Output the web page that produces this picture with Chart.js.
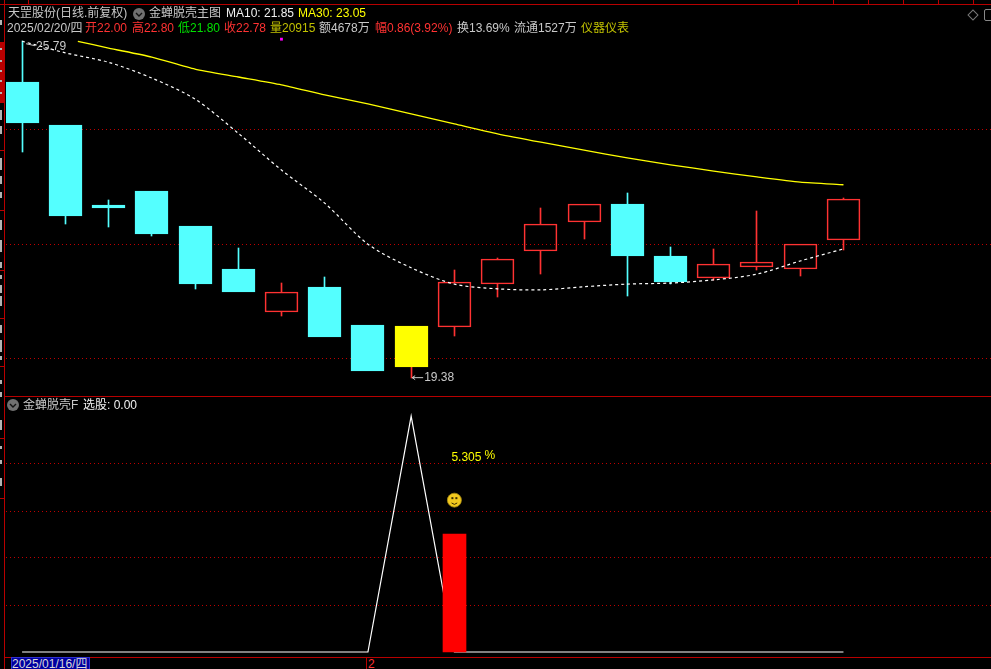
<!DOCTYPE html>
<html>
<head>
<meta charset="utf-8">
<title>天罡股份</title>
<script src="https://cdn.jsdelivr.net/npm/chart.js@4/dist/chart.umd.min.js"></script>
<style>
  html, body { margin: 0; background: #000; overflow: hidden; }
  #page { position: relative; width: 991px; height: 669px; overflow: hidden; background: #000;
          font: 12px "Liberation Sans", "Noto Sans CJK SC", sans-serif; }
  canvas { position: absolute; left: 6px; display: block; }
  .t { position: absolute; white-space: nowrap; line-height: 14px; height: 14px; }
  .r { position: absolute; background: #b80000; }
  .bit { position: absolute; left: 0; width: 2px; background: #b4b4b4; }
</style>
</head>
<body>
<div id="page">
  <canvas id="priceChart" width="985" height="390" style="top:5px"></canvas>
  <canvas id="signalChart" width="985" height="258" style="top:397px"></canvas>
</div>

<script>
/* ---------- Data ---------- */
const days   = [0, 1, 2, 3, 4, 5, 6, 7, 8, 9, 10, 11, 12, 13, 14, 15, 16, 17, 18, 19];
const opens  = [25.00, 24.19, 22.67, 22.93, 22.27, 21.45, 20.63, 21.11, 20.38, 20.37, 20.35, 21.16, 21.79, 22.34, 22.69, 21.70, 21.28, 21.49, 21.45, 22.00];
const closes = [24.22, 22.46, 22.61, 22.11, 21.16, 21.01, 21.01, 20.16, 19.51, 19.59, 21.20, 21.64, 22.30, 22.69, 21.70, 21.20, 21.54, 21.58, 21.92, 22.78];
const highs  = [25.79, 24.19, 22.76, 22.93, 22.27, 21.85, 21.18, 21.30, 20.38, 20.37, 21.43, 21.66, 22.61, 22.69, 22.89, 21.87, 21.83, 22.55, 21.92, 22.80];
const lows   = [23.67, 22.30, 22.25, 22.08, 21.07, 21.01, 20.56, 20.16, 19.51, 19.38, 20.18, 20.92, 21.35, 22.02, 20.94, 21.16, 21.24, 21.43, 21.32, 21.80];
const ma10   = [25.78, 25.56, 25.38, 25.08, 24.68, 24.03, 23.33, 22.70, 21.92, 21.47, 21.16, 21.07, 21.05, 21.11, 21.16, 21.18, 21.24, 21.35, 21.60, 21.83];
const ma30Days = [1.29, 2, 3, 4, 5, 6, 7, 8, 9, 10, 11, 12, 13, 14, 15, 16, 17, 18, 19];
const ma30   = [25.78, 25.65, 25.48, 25.25, 25.10, 24.95, 24.76, 24.59, 24.40, 24.21, 24.02, 23.86, 23.71, 23.56, 23.43, 23.31, 23.20, 23.10, 23.05];
const priceGrid = [24.11, 21.92, 19.74];
const highDay = 0, lowDay = 9, flagDay = 6, flagPrice = 25.82;

const signalLine = [0, 0, 0, 0, 0, 0, 0, 0, 0, 10.61, 0, 0, 0, 0, 0, 0, 0, 0, 0, 0];
const signalBarDay = 10, signalBarValue = 5.305;
const signalGrid = [2.11, 4.23, 6.34, 8.50];
const smileValue = 6.83, percentValue = 8.72;

/* ---------- Colours ---------- */
const RED = "#ff3232", CYAN = "#54ffff", YELLOW = "#ffff00", GRID = "#c00000";
const isUp = (i) => closes[i] >= opens[i] && i !== lowDay;
const candleColor = (i) => i === lowDay ? YELLOW : (isUp(i) ? RED : CYAN);
const wickColor = (i) => i === lowDay ? RED : candleColor(i);

/* ---------- Shared options ---------- */
const xScale = { type: "linear", display: false, offset: false, min: -0.3721, max: 22.4130 };
const yScale = (min, max, list) => ({
  min, max,
  afterFit: (s) => { s.width = 0; },
  afterBuildTicks: (s) => { s.ticks = list.map(v => ({ value: v })); },
  border: { display: false, dash: [1, 3] },
  grid: { color: GRID, lineWidth: 1, drawTicks: false },
  ticks: { display: false }
});

// keep bars on whole pixels, the reference has no antialiasing on them
const snapBars = {
  id: "snapBars",
  afterDatasetsUpdate(chart) {
    chart.data.datasets.forEach((d, n) => {
      if (d.type !== "bar") return;
      chart.getDatasetMeta(n).data.forEach(e => {
        e.x = Math.floor(e.x) + 0.5;
        e.y = Math.round(e.y);
        e.base = Math.round(e.base);
      });
    });
  }
};

const bar = (extra) => Object.assign({ type: "bar", grouped: false, borderSkipped: false }, extra);

/* ---------- Price panel ---------- */
const priceNotes = {
  id: "priceNotes",
  afterDraw(chart) {
    const { ctx, scales: { x, y } } = chart;
    ctx.save();
    ctx.font = '12px "Liberation Sans"';
    ctx.textBaseline = "middle";
    ctx.strokeStyle = "#c8c8c8";
    ctx.fillStyle = "#c8c8c8";
    // highest price
    const hx = x.getPixelForValue(highDay), hy = y.getPixelForValue(highs[highDay]);
    ctx.beginPath(); ctx.moveTo(hx + 4, hy + 3); ctx.lineTo(hx + 13, hy + 5); ctx.stroke();
    ctx.fillText(highs[highDay].toFixed(2), hx + 14, hy + 6);
    // lowest price
    const lx = x.getPixelForValue(lowDay), ly = y.getPixelForValue(lows[lowDay]);
    ctx.beginPath(); ctx.moveTo(lx + 1, ly); ctx.lineTo(lx + 12, ly);
    ctx.moveTo(lx + 1, ly); ctx.lineTo(lx + 4, ly - 2); ctx.moveTo(lx + 1, ly); ctx.lineTo(lx + 4, ly + 2); ctx.stroke();
    ctx.fillText(lows[lowDay].toFixed(2), lx + 13, ly);
    ctx.restore();
  }
};

new Chart(document.getElementById("priceChart"), {
  data: {
    datasets: [
      { type: "line", order: 1, data: ma30Days.map((d, i) => ({ x: d, y: ma30[i] })), borderColor: YELLOW, borderWidth: 1.3, pointRadius: 0, tension: 0.2 },
      { type: "line", order: 2, data: days.map(d => ({ x: d, y: ma10[d] })), borderColor: "#fff", borderWidth: 1.2, borderDash: [3, 3], pointRadius: 0, tension: 0.3 },
      { type: "scatter", order: 3, data: [{ x: flagDay, y: flagPrice }], pointStyle: "rect", pointRadius: 2, backgroundColor: "#ff00ff", borderWidth: 0 },
      bar({ order: 4, data: days.map(d => ({ x: d, y: [opens[d], closes[d]] })), barThickness: 33, borderWidth: 1,
            backgroundColor: days.map(d => isUp(d) ? "rgba(0,0,0,0)" : candleColor(d)),
            borderColor: days.map(candleColor) }),
      bar({ order: 5, barThickness: 1, borderWidth: 0, backgroundColor: (c) => wickColor(c.raw.x),
            data: days.filter(d => highs[d] > Math.max(opens[d], closes[d])).map(d => ({ x: d, y: [Math.max(opens[d], closes[d]), highs[d]] })) }),
      bar({ order: 6, barThickness: 1, borderWidth: 0, backgroundColor: (c) => wickColor(c.raw.x),
            data: days.filter(d => lows[d] < Math.min(opens[d], closes[d])).map(d => ({ x: d, y: [lows[d], Math.min(opens[d], closes[d])] })) })
    ]
  },
  options: {
    responsive: false, animation: false, devicePixelRatio: 1,
    layout: { padding: 0, autoPadding: false },
    plugins: { legend: { display: false }, tooltip: { enabled: false } },
    scales: { x: xScale, y: yScale(19.05, 26.47, priceGrid) }
  },
  plugins: [snapBars, priceNotes]
});

/* ---------- Signal panel ---------- */
const signalNotes = {
  id: "signalNotes",
  afterDraw(chart) {
    const { ctx, scales: { x, y } } = chart;
    const bx = x.getPixelForValue(signalBarDay);
    ctx.save();
    ctx.font = '12px "Liberation Sans"';
    ctx.textBaseline = "middle";
    ctx.fillStyle = YELLOW;
    const ty = y.getPixelForValue(percentValue);
    ctx.fillText(signalBarValue.toFixed(3), bx - 3, ty);
    ctx.fillText("%", bx + 30, ty - 2);
    // smiley
    const sy = y.getPixelForValue(smileValue);
    ctx.fillStyle = "#f2c91e";
    ctx.beginPath(); ctx.arc(bx, sy, 7, 0, Math.PI * 2); ctx.fill();
    ctx.strokeStyle = "#a88a10"; ctx.lineWidth = 0.8; ctx.stroke();
    ctx.fillStyle = "#3a2c00";
    ctx.fillRect(bx - 3, sy - 3, 2, 2);
    ctx.fillRect(bx + 1, sy - 3, 2, 2);
    ctx.strokeStyle = "#3a2c00"; ctx.lineWidth = 1;
    ctx.beginPath(); ctx.arc(bx, sy, 4, 0.25 * Math.PI, 0.75 * Math.PI); ctx.stroke();
    ctx.restore();
  }
};

new Chart(document.getElementById("signalChart"), {
  data: {
    datasets: [
      bar({ order: 1, data: [{ x: signalBarDay, y: [0, signalBarValue] }], barThickness: 23, backgroundColor: "#ff0000", borderWidth: 0 }),
      { type: "line", order: 2, data: days.map(d => ({ x: d, y: signalLine[d] })), borderColor: "#fff", borderWidth: 1.2, pointRadius: 0, tension: 0 }
    ]
  },
  options: {
    responsive: false, animation: false, devicePixelRatio: 1,
    layout: { padding: 0, autoPadding: false },
    plugins: { legend: { display: false }, tooltip: { enabled: false } },
    scales: { x: xScale, y: yScale(-0.135, 11.47, signalGrid) }
  },
  plugins: [snapBars, signalNotes]
});

/* ---------- Header texts and frame ---------- */
const page = document.getElementById("page");
const GREY = "#c8c8c8", OLIVE = "#c0c000", WHITE = "#f0f0f0";
const addText = (x, y, s, color) => {
  const el = document.createElement("div");
  el.className = "t";
  el.style.cssText = `left:${x}px;top:${y - 7}px;color:${color}`;
  el.textContent = s;
  page.appendChild(el);
  return el;
};
const addRule = (x, y, w, h, color) => {
  const el = document.createElement("div");
  el.className = "r";
  el.style.cssText = `left:${x}px;top:${y}px;width:${w}px;height:${h}px` + (color ? `;background:${color}` : "");
  page.appendChild(el);
  return el;
};
const addIcon = (x, y) => {
  const el = document.createElement("div");
  el.style.cssText = `position:absolute;left:${x}px;top:${y}px;width:12px;height:12px`;
  el.innerHTML = '<svg width="12" height="12"><circle cx="6" cy="6" r="6" fill="#707070"/><path d="M3 5 L6 8 L9 5" fill="none" stroke="#111" stroke-width="1.4"/></svg>';
  page.appendChild(el);
};

addText(8, 13, "天罡股份(日线.前复权)", GREY);
addIcon(133, 8);
addText(149, 13, "金蝉脱壳主图", GREY);
addText(226, 13, "MA10: 21.85", WHITE);
addText(298, 13, "MA30: 23.05", YELLOW);

addText(7, 28, "2025/02/20/四", GREY);
addText(85, 28, "开22.00", RED);
addText(132, 28, "高22.80", RED);
addText(178, 28, "低21.80", "#00e000");
addText(224, 28, "收22.78", RED);
addText(270, 28, "量20915", OLIVE);
addText(319, 28, "额4678万", GREY);
addText(375, 28, "幅0.86(3.92%)", RED);
addText(457, 28, "换13.69%", GREY);
addText(514, 28, "流通1527万", GREY);
addText(581, 28, "仪器仪表", OLIVE);

addIcon(7, 399);
addText(23, 405, "金蝉脱壳F", GREY);
addText(83, 405, "选股: 0.00", WHITE);

// frame
addRule(0, 4, 991, 1);
addRule(4, 0, 1, 669);
addRule(5, 396, 986, 1);
addRule(5, 657, 986, 1);
addRule(366, 657, 1, 12);
[28, 798, 833, 868, 903, 938, 973].forEach(x => addRule(x, 0, 1, 4));
addRule(0, 42, 4, 61);
[150, 210, 270, 318, 366, 438, 498].forEach(y => addRule(0, y, 4, 1));

// clipped axis labels along the left edge
[[20, 5], [48, 2], [60, 2], [70, 2], [80, 2], [92, 2], [110, 10], [126, 8], [158, 12], [176, 8], [192, 6], [220, 10], [240, 12], [262, 6],
 [275, 4], [285, 8], [296, 10], [325, 8], [340, 12], [356, 4], [380, 4], [392, 5], [420, 10], [446, 3], [460, 4], [478, 8]].forEach(([y, h]) => {
  const el = document.createElement("div");
  el.className = "bit";
  el.style.cssText = `top:${y}px;height:${h}px`;
  page.appendChild(el);
});

// window buttons at top right
const diamond = addRule(969, 11, 6, 6, "transparent");
diamond.style.border = "1px solid #777";
diamond.style.transform = "rotate(45deg)";
const square = addRule(984, 9, 12, 10, "transparent");
square.style.border = "1px solid #888";
square.style.borderRadius = "2px";

// date box on the time axis
const dateBox = addText(12, 664, "2025/01/16/四", "#d8d8d8");
dateBox.style.cssText += ";background:#0000a0;outline:1px solid #3030d0;width:77px;height:11px;line-height:12px;top:658px;overflow:hidden";
addText(368, 664, "2", RED);
</script>
</body>
</html>
